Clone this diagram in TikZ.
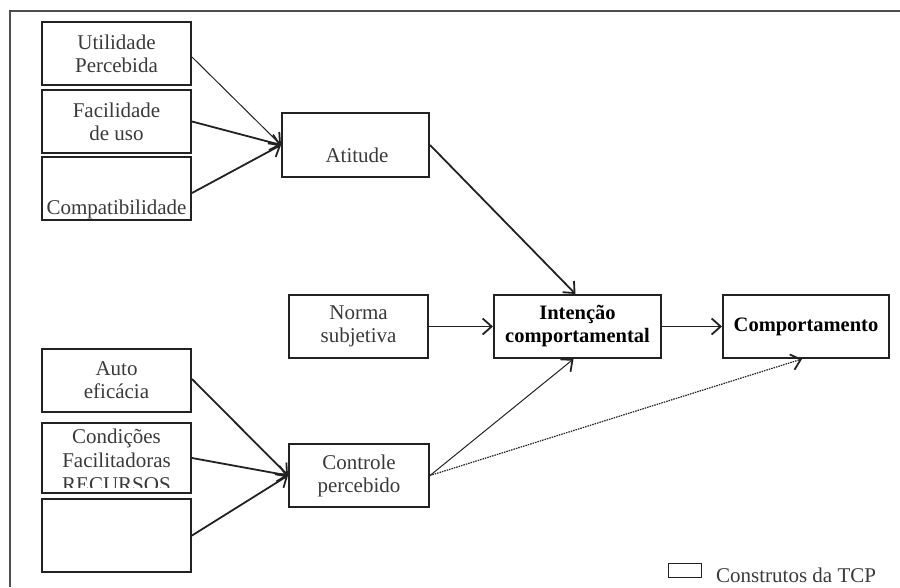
\documentclass[tikz,border=0pt]{standalone}
\usepackage{fontspec}
\setmainfont{Liberation Serif}
\usetikzlibrary{arrows.meta}
\definecolor{ln}{HTML}{222222}
\definecolor{tx}{HTML}{3A3A3A}
\tikzset{
  box/.style={draw=ln, line width=2pt, fill=white, rectangle, inner sep=0pt,
    align=center, text=tx, font=\fontsize{21}{23}\selectfont},
  boldbox/.style={box, text=black, font=\fontsize{20.5}{23}\selectfont\bfseries},
  txt/.style={inner sep=0pt, text=tx, font=\fontsize{21}{23}\selectfont, align=center},
  arr/.style={draw=ln, line width=1.8pt, -{Straight Barb[length=9pt,width=16pt,line width=1.8pt]}},
  thinarr/.style={arr, line width=1pt},
  dotarr/.style={arr, line width=1.2pt, dash pattern=on 1.5pt off 1pt}
}
\begin{document}
\begin{tikzpicture}[x=1pt,y=-1pt]
\useasboundingbox (0,0) rectangle (900,587);
% frame
\draw[draw=ln!80, line width=1.6pt] (10,587) -- (10,11) -- (900,11);
% left column
\node[box, minimum width=149pt, minimum height=63pt] (u) at (116.5,53.5) {Utilidade\\Percebida};
\node[box, minimum width=149pt, minimum height=63pt] (f) at (116.5,121.5) {Facilidade\\de uso};
\node[box, minimum width=149pt, minimum height=63pt] (c) at (116.5,188.5) {};
\node[txt, anchor=base] (ct) at ([yshift=7pt]c.south) {Compatibilidade};
\node[box, minimum width=149pt, minimum height=63pt] (ae) at (116.5,380.5) {Auto\\eficácia};
\node[box, minimum width=149pt, minimum height=70pt] (cf) at (116.5,458) {};
\begin{scope}
\clip (44,425) rectangle (189,487);
\node[txt, anchor=north, font=\fontsize{21}{24}\selectfont] (cft) at (116.5,429) {Condições\\Facilitadoras\\RECURSOS};
\end{scope}
\node[box, minimum width=149pt, minimum height=73pt] (e) at (116.5,535.5) {};
% middle
\node[box, minimum width=147pt, minimum height=64pt] (at) at (355.5,145) {};
\node[txt, anchor=base] (att) at (357,162) {Atitude};
\node[box, minimum width=139pt, minimum height=63pt] (n) at (358.5,326.5) {Norma\\subjetiva};
\node[box, minimum width=140pt, minimum height=63pt] (cp) at (359,475.5) {Controle\\percebido};
\node[boldbox, minimum width=167pt, minimum height=63pt] (i) at (577.5,326.5) {Intenção\\comportamental};
\node[boldbox, minimum width=166pt, minimum height=63pt] (b) at (806,326.5) {Comportamento};
% arrows
\draw[thinarr] ([yshift=-3.5pt]u.east) -- (at.west);
\draw[arr] (f.east) -- (at.west);
\draw[arr] ([yshift=-4.5pt]c.east) -- (at.west);
\draw[arr] (at.east) -- ([xshift=-2pt]i.north);
\draw[arr] (n.east) -- (i.west);
\draw[arr] (i.east) -- (b.west);
\draw[arr] ([yshift=1.5pt]ae.east) -- (cp.west);
\draw[arr] (cf.east) -- (cp.west);
\draw[arr] (e.east) -- (cp.west);
\draw[thinarr] (cp.east) -- ([xshift=-4pt]i.south);
\draw[dotarr] (cp.east) -- ([xshift=-4pt]b.south);
% legend
\node[draw=ln, line width=1.8pt, minimum width=33pt, minimum height=14pt, inner sep=0pt] (lg) at (685,570.5) {};
\node[txt, anchor=base west] (lgt) at (716,582) {Construtos da TCP};
\end{tikzpicture}
\end{document}
